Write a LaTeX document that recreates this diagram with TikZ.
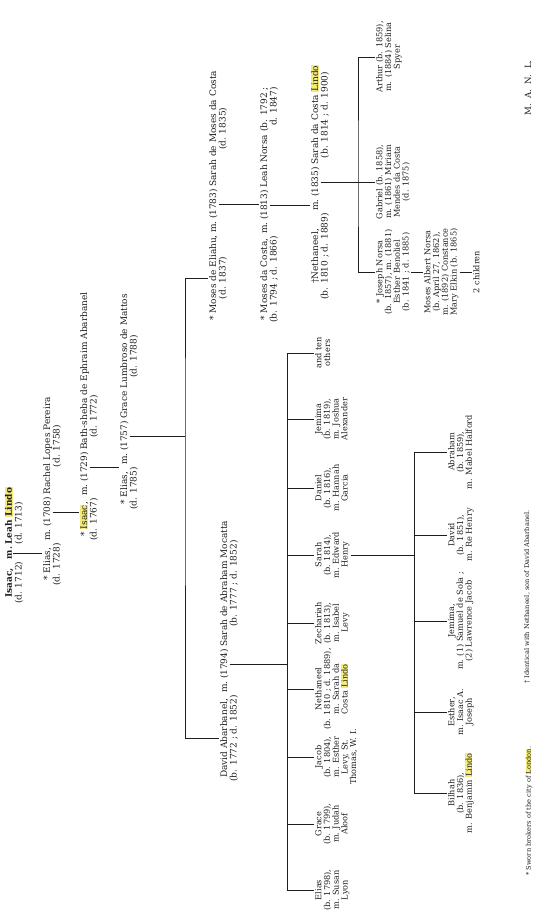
\documentclass[tikz,border=0pt]{standalone}
\usepackage{fontspec}
\setmainfont{DejaVu Serif}
\usepackage{xcolor}
\usetikzlibrary{calc}
\definecolor{hlyellow}{HTML}{F3EB7A}
\definecolor{inkgray}{HTML}{1E1E1E}
\newcommand{\hlt}[1]{{\setlength{\fboxsep}{0.4pt}\colorbox{hlyellow}{#1}}}
\newcommand{\pd}[2]{\begin{tabular}[t]{@{}c@{}}#1\\#2\end{tabular}}

\begin{document}
\begin{tikzpicture}[
    x=1pt, y=-1pt,
    txt/.style={rotate=90, inner sep=1pt, text=inkgray, font=\fontsize{9}{9.5}\selectfont},
    mar/.style={txt, anchor=base},
    lpers/.style={txt, anchor=base east},
    rpers/.style={txt, anchor=base west},
    kid/.style={txt, align=center, anchor=north, font=\fontsize{8.2}{8.7}\selectfont},
    note/.style={txt, font=\fontsize{6.6}{7}\selectfont},
    conn/.style={draw=inkgray, line width=0.5pt}
]
\useasboundingbox (0,0) rectangle (540,913);

% Bars
\coordinate (bar5) at (185,0);
\coordinate (bar6) at (287,0);
\coordinate (bar7) at (414,0);
\coordinate (bar8) at (358,0);

% Generation 1
\node[mar, font=\fontsize{8.8}{9.5}\selectfont\bfseries] (m1) at (12,553) {m.};
\node[lpers] (isaac1) at (m1.base west) {\pd{\textbf{Isaac,}}{(d. 1712)}};
\node[rpers] (leah1) at (m1.base east) {\begin{tabular}[t]{@{}l@{}}\textbf{Leah \hlt{Lindo}}\\(d. 1713)\end{tabular}};

% Generation 2
\node[mar] (yr2) at (50,512) {(1708)};
\node[mar, anchor=base east] (m2) at (yr2.base west) {m.};
\node[lpers] (elias2) at (m2.base west) {\pd{* Elias,}{(d. 1728)}};
\node[rpers] (rachel2) at (yr2.base east) {\pd{Rachel Lopes Pereira}{(d. 1758)}};

% Generation 3
\node[mar] (yr3) at (87,467) {(1729)};
\node[mar, anchor=base east] (m3) at (yr3.base west) {m.};
\node[lpers] (isaac3) at (m3.base west) {\pd{* \hlt{Isaac},}{(d. 1767)}};
\node[rpers] (bathsheba3) at (yr3.base east) {\begin{tabular}[t]{@{}l@{}}Bath-sheba de Ephraim Abarbanel\\\hspace{12pt}(d. 1772)\end{tabular}};

% Generation 4
\node[mar] (yr4) at (127,436) {(1757)};
\node[mar, anchor=base east] (m4) at (yr4.base west) {m.};
\node[lpers] (elias4) at (m4.base west) {\pd{* Elias,}{(d. 1785)}};
\node[rpers] (grace4) at (yr4.base east) {\pd{Grace Lumbroso de Mattos}{(d. 1788)}};

% Generation 5
\node[mar] (yr5) at (216,204) {(1783)};
\node[mar, anchor=base east] (m5) at (yr5.base west) {m.};
\node[lpers] (moses5) at (m5.base west) {\pd{* Moses de Eliahu,}{(d. 1837)}};
\node[rpers] (sarah5) at (yr5.base east) {\pd{Sarah de Moses da Costa}{(d. 1835)}};

\node[mar] (yr5d) at (227,664) {(1794)};
\node[mar, anchor=base east] (m5d) at (yr5d.base west) {m.};
\node[lpers] (david5) at (m5d.base west) {\pd{David Abarbanel,}{(b. 1772 ; d. 1852)}};
\node[rpers] (mocatta5) at (yr5d.base east) {\pd{Sarah de Abraham Mocatta}{(b. 1777 ; d. 1852)}};

% Generation 6, da Costa line
\node[mar] (yr6) at (267,205) {(1813)};
\node[mar, anchor=base east] (m6) at (yr6.base west) {m.};
\node[lpers] (mosesdc6) at (m6.base west) {\pd{* Moses da Costa,}{(b. 1794 ; d. 1866)}};
\node[rpers] (leah6) at (yr6.base east) {\begin{tabular}[t]{@{}r@{}}Leah Norsa (b. 1792 ;\\d. 1847)\end{tabular}};

% Generation 7, Nethaneel and Sarah
\node[mar] (yr7) at (318,182) {(1835)};
\node[mar, anchor=base east] (m7) at (yr7.base west) {m.};
\node[lpers] (neth7) at (m7.base west) {\pd{\dag Nethaneel,}{(b. 1810 ; d. 1889)}};
\node[rpers] (sarahdcl7) at (yr7.base east) {\pd{Sarah da Costa \hlt{Lindo}}{(b. 1814 ; d. 1900)}};

% Generation 8, Norsa children
\node[kid] (arthur8) at (375,57) {Arthur (b. 1859),\\m. (1884) Selina\\Spyer};
\node[kid] (gabriel8) at (375,182) {Gabriel (b. 1858),\\m. (1861) Miriam\\Mendes da Costa\\(d. 1875)};
\node[kid] (joseph8) at (375,272) {* Joseph Norsa\\(b. 1857), m. (1881)\\Esther Benoliel\\(b. 1841 ; d. 1885)};
\node[kid] (moses9) at (423,272) {Moses Albert Norsa\\(b. April 27, 1862),\\m. (1892) Constance\\Mary Elkin (b. 1865)};
\node[kid] (kids10) at (472,272) {2 children};

% Generation 6, Abarbanel children
\node[kid] (elias6) at (314,890) {Elias\\(b. 1798),\\m. Susan\\Lyon};
\node[kid] (grace6) at (314,824) {Grace\\(b. 1799),\\m. Judah\\Aloof};
\node[kid] (jacob6) at (314,757) {Jacob\\(b. 1804),\\m. Esther\\Levy, St.\\Thomas, W. I.};
\node[kid] (neth6) at (314,689) {Nethaneel\\(b. 1810 ; d. 1889),\\m. Sarah da\\Costa \hlt{Lindo}};
\node[kid] (zech6) at (314,623) {Zechariah\\(b. 1813),\\m. Isabel\\Levy};
\node[kid] (sarah6) at (314,555) {Sarah\\(b. 1814),\\m. Edward\\Henry};
\node[kid] (daniel6) at (314,488) {Daniel\\(b. 1816),\\m. Hannah\\Garcia};
\node[kid] (jemima6) at (314,419) {Jemima\\(b. 1819),\\m. Joshua\\Alexander};
\node[kid] (others6) at (314,353) {and ten\\others};

% Generation 7, Henry children
\node[kid] (bilhah7) at (447,793) {Bilhah\\(b. 1836),\\m. Benjamin \hlt{Lindo}};
\node[kid] (esther7) at (447,712) {Esther,\\m. Isaac A.\\Joseph};
\node[kid] (jemima7) at (447,621) {Jemima,\\m. (1) Samuel de Sola ;\\(2) Lawrence Jacob};
\node[kid] (david7) at (447,535) {David\\(b. 1851),\\m. Re Henry};
\node[kid] (abraham7) at (447,452) {Abraham\\(b. 1859),\\m. Mabel Halford};

% Footnotes and signature
\node[note] (note1) at (529,811) {* Sworn brokers of the city of \hlt{London}.};
\node[note] (note2) at (527,597) {\dag\ Identical with Nethaneel, son of David Abarbanel.};
\node[txt, font=\fontsize{8.6}{9}\selectfont] (sig) at (528,88) {M.\ \ A.\ \ N.\ \ L.};

% Descent lines
\draw[conn] (m1.south) -- (m1.south -| elias2.north);
\draw[conn] (yr2.south) -- (yr2.south -| isaac3.north);
\draw[conn] (yr3.south) -- (yr3.south -| elias4.north);
\draw[conn] (yr4.south) -- (yr4.south -| bar5) coordinate (j5);
\draw[conn] (moses5.north) -| (j5) |- (david5.north);
\draw[conn] (yr5.south) -- (yr5.south -| mosesdc6.north);
\draw[conn] (yr6.south) -- (yr6.south -| neth7.north);

\draw[conn] (yr7.south) -- (yr7.south -| bar8) coordinate (j8);
\draw[conn] (arthur8.north) -| (j8) |- (joseph8.north);
\draw[conn] (gabriel8.north) -- (gabriel8.north -| bar8);
\draw[conn] (joseph8.south) -- (joseph8.south -| moses9.north);
\draw[conn] (moses9.south) -- (moses9.south -| kids10.north);

\draw[conn] (yr5d.south) -- (yr5d.south -| bar6);
\draw[conn] (elias6.north -| bar6) -- (others6.north -| bar6);
\foreach \k in {elias6, grace6, jacob6, neth6, zech6, sarah6, daniel6, jemima6, others6}
    \draw[conn] (\k.north) -- (\k.north -| bar6);

\draw[conn] (sarah6.south) -- (sarah6.south -| bar7);
\draw[conn] (bilhah7.north -| bar7) -- (abraham7.north -| bar7);
\foreach \k in {bilhah7, esther7, jemima7, david7, abraham7}
    \draw[conn] (\k.north) -- (\k.north -| bar7);

\end{tikzpicture}
\end{document}
